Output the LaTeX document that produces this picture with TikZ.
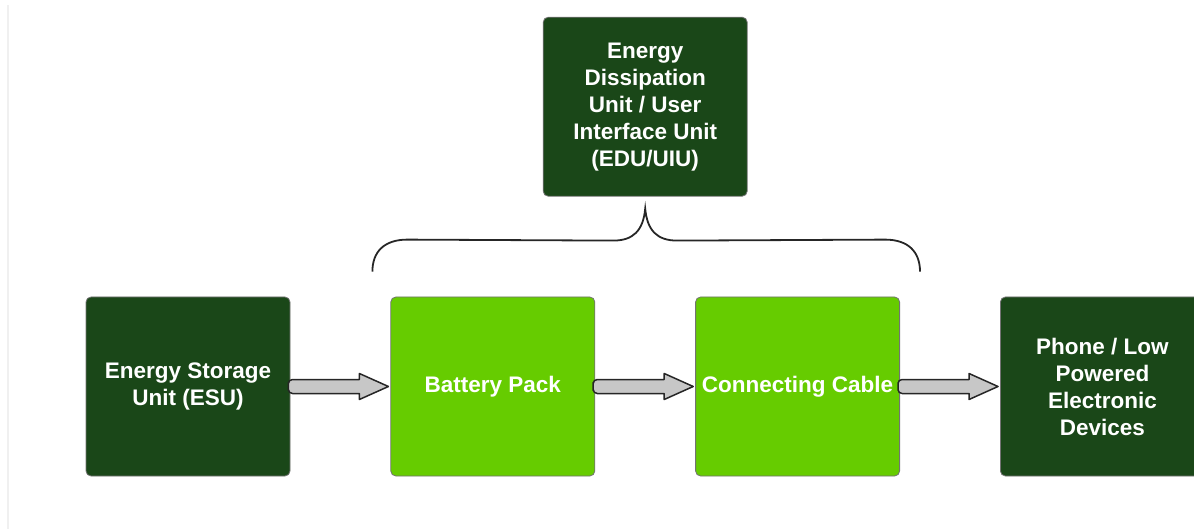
\documentclass[tikz,border=0pt]{standalone}
\usepackage{fontspec}
\setmainfont{Liberation Sans}
\usetikzlibrary{positioning,calc}

\definecolor{darkgreen}{HTML}{1A4718}
\definecolor{lightgreen}{HTML}{66CC00}

\tikzset{
	unit/.style={draw=black!55, line width=0.8pt, rounded corners=5pt,
		minimum width=204pt, minimum height=179pt, align=center, text=white,
		font=\bfseries\fontsize{22.5}{27}\selectfont},
	dark/.style={unit, fill=darkgreen},
	light/.style={unit, fill=lightgreen},
	flow/.style={draw=black!85, fill=black!22, line width=1.5pt, line join=round},
	brace/.style={draw=black!85, line width=1.8pt}
}

% fat grey arrow from the east side of #1 to the west side of #2
\newcommand\pipe[2]{%
	\path[flow] let \p1=(#1.east), \p2=(#2.west) in
	[rounded corners=4pt] (\x1-2pt,\y1) -- (\x1-2pt,\y1+7pt) [sharp corners]
	-- (\x2-31pt,\y1+7pt) -- (\x2-31pt,\y1+13pt) -- (\x2-2pt,\y1)
	-- (\x2-31pt,\y1-13pt) -- (\x2-31pt,\y1-7pt) [rounded corners=4pt]
	-- (\x1-2pt,\y1-7pt) -- (\x1-2pt,\y1) [sharp corners] -- cycle;
}

\begin{document}
\begin{tikzpicture}[x=1pt, y=-1pt]
\useasboundingbox (0,0) rectangle (1194,529);
\draw[black!6, line width=2pt] (8,5) -- (8,529);

% bottom row
\node[dark] (esu) at (188,386.5) {Energy Storage\\Unit (ESU)};
\node[light, right=100pt of esu] (bat) {Battery Pack};
\node[light, right=100pt of bat] (cab) {Connecting Cable};
\node[dark, right=100pt of cab] (dev) {Phone / Low\\Powered\\Electronic\\Devices};

% top unit
\coordinate (mid) at ($(bat.north)!0.5!(cab.north)$);
\node[dark, above=100pt of mid] (edu) {Energy\\Dissipation\\Unit / User\\Interface Unit\\(EDU/UIU)};

\pipe{esu}{bat}
\pipe{bat}{cab}
\pipe{cab}{dev}

% brace under the top unit
\coordinate (bl) at ($(bat.north west)+(-18,-25)$);
\coordinate (br) at ($(cab.north east)+(20,-25)$);
\coordinate (tip) at ($(edu.south)+(0,12)$);
\path[brace] (bl) .. controls ($(bl)+(0,-20)$) and ($(bl)+(12,-32)$) .. ($(bl)+(35,-32)$)
	-- ($(tip)+(-32,32)$) .. controls ($(tip)+(-12,32)$) and ($(tip)+(-2,22)$) .. (tip)
	.. controls ($(tip)+(2,22)$) and ($(tip)+(12,32)$) .. ($(tip)+(32,32)$)
	-- ($(br)+(-35,-32)$) .. controls ($(br)+(-12,-32)$) and ($(br)+(0,-20)$) .. (br);
\end{tikzpicture}
\end{document}
